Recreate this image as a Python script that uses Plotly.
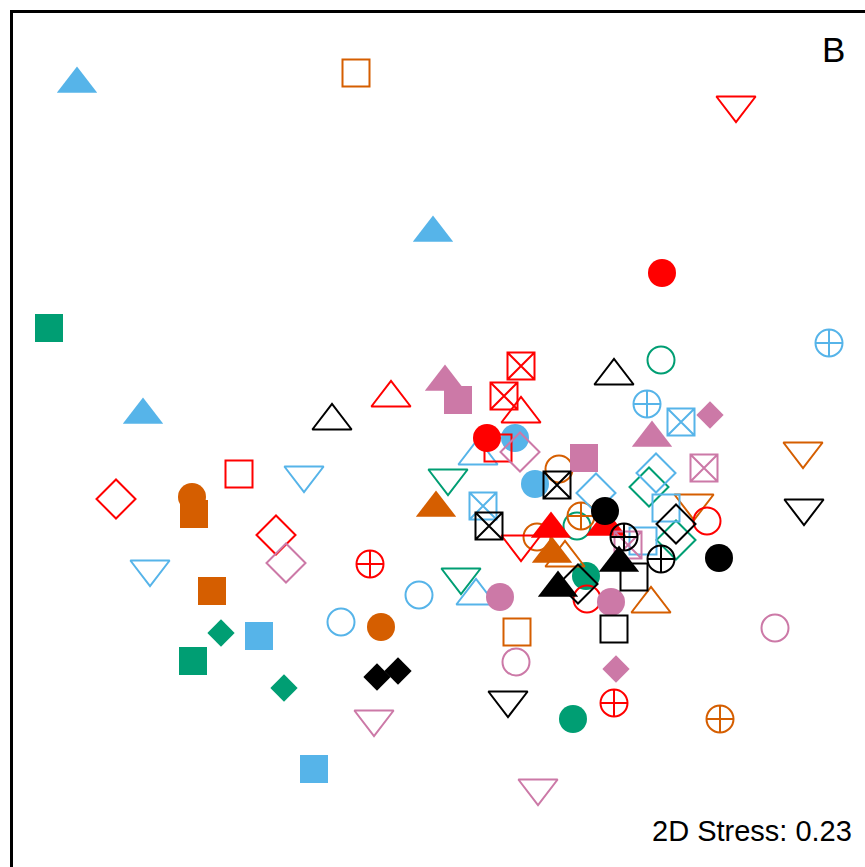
import plotly.graph_objects as go

# NMDS scores (arbitrary units), group (colour) and factor (symbol) per sample
nmds1 = [-3.63, -0.84, 2.96, -0.07, 2.22, -3.91, 3.89, 2.21, 1.74, 0.05,
         -0.49, 0.18, 0.81, 0.64, 0.81, -1.08, -2.97, 2.07, 2.41, 2.70,
         2.12, 0.47, 0.75, 0.38, 0.58, 0.80, 3.63, 1.44, 1.19, 0.08,
         0.95, 1.17, 2.64, 2.16, 2.09, 1.56, -2.01, -1.36, -3.24, -2.48,
         -2.46, -0.04, 0.43, 0.49, 0.81, 1.11, 0.97, 1.12, 1.25, 1.41,
         1.37, 1.65, 1.66, 2.26, 2.54, 2.36, 2.67, 2.36, 1.84, 1.88,
         2.03, 2.21, 1.79, 1.94, 2.79, -1.64, -1.54, -2.90, -0.70, 0.21,
         0.36, 0.60, 1.18, 1.38, 1.46, 1.47, 1.71, 2.11, 1.74, -0.21,
         -0.99, -0.59, -2.28, 0.77, 3.35, -1.81, -2.19, -2.47, 0.76, 1.76,
         -1.56, -0.63, -0.42, 0.68, 1.74, 2.80, 1.33, -0.66, -1.26, 0.98,
         3.64]
nmds2 = [3.56, 3.67, 3.35, 2.07, 1.67, 1.12, 0.97, 0.80, 0.64, 0.58,
         0.42, 0.40, 0.74, 0.44, 0.26, 0.19, 0.25, 0.36, 0.18, 0.25,
         0.02, 0.02, 0.02, -0.16, -0.08, -0.12, -0.11, -0.18, -0.29, -0.38,
         -0.44, -0.45, -0.28, -0.33, -0.47, -0.53, -0.34, -0.35, -0.59, -0.57,
         -0.74, -0.68, -0.66, -0.86, -1.04, -0.89, -0.97, -1.14, -1.18, -0.76,
         -0.86, -0.71, -0.87, -0.68, -0.63, -0.84, -0.81, -1.00, -0.97, -1.05,
         -1.01, -1.19, -1.23, -1.37, -1.18, -0.95, -1.23, -1.29, -1.24, -1.37,
         -1.56, -1.57, -1.48, -1.44, -1.36, -1.59, -1.62, -1.64, -1.89, -1.55,
         -1.82, -1.87, -1.51, -1.92, -1.88, -1.96, -1.93, -2.21, -2.22, -2.29,
         -2.48, -2.37, -2.31, -2.60, -2.63, -2.79, -2.79, -2.79, -3.29, -3.48,
         -0.68]
group = ["blue", "orange", "red", "blue", "red", "green", "blue", "green", "black", "pink",
         "red", "pink", "red", "red", "red", "black", "blue", "blue", "blue", "pink",
         "pink", "red", "blue", "blue", "red", "pink", "orange", "pink", "orange", "green",
         "blue", "black", "pink", "blue", "green", "blue", "red", "blue", "red", "orange",
         "orange", "orange", "blue", "black", "red", "red", "orange", "orange", "orange", "orange",
         "green", "black", "red", "blue", "orange", "black", "red", "green", "black", "pink",
         "blue", "black", "black", "black", "black", "red", "pink", "blue", "red", "green",
         "blue", "pink", "black", "black", "green", "red", "pink", "orange", "black", "blue",
         "blue", "orange", "orange", "orange", "pink", "blue", "green", "green", "pink", "pink",
         "green", "black", "black", "black", "red", "orange", "green", "pink", "blue", "pink",
         "black"]
factor = ["tr_f", "sq_o", "td_o", "tr_f", "ci_f", "sq_f", "cp", "ci_o", "tr_o", "tr_f",
          "tr_o", "sq_f", "sx", "sx", "tr_o", "tr_o", "tr_f", "cp", "sx", "di_f",
          "tr_f", "ci_f", "ci_f", "tr_o", "sq_o", "di_o", "td_o", "sq_f", "ci_o", "td_o",
          "ci_f", "sx", "sx", "di_o", "di_o", "di_o", "sq_o", "td_o", "di_o", "ci_f",
          "sq_f", "tr_f", "sx", "sx", "td_o", "tr_f", "ci_o", "tr_f", "tr_o", "cp",
          "ci_o", "ci_f", "tr_f", "sq_o", "td_o", "di_o", "ci_o", "di_o", "cp", "sx",
          "sq_o", "cp", "tr_f", "sq_o", "ci_f", "di_o", "di_o", "td_o", "cp", "td_o",
          "tr_o", "ci_f", "tr_f", "di_o", "ci_f", "ci_o", "ci_f", "tr_o", "sq_o", "ci_o",
          "ci_o", "ci_f", "sq_f", "sq_o", "ci_o", "sq_f", "di_f", "sq_f", "ci_o", "di_f",
          "di_f", "di_f", "di_f", "td_o", "cp", "cp", "ci_f", "td_o", "sq_f", "td_o",
          "td_o"]

stress_label = "2D Stress: 0.23"
panel_label = "B"

colors = {"green": "#009E73", "orange": "#D55E00", "blue": "#56B4E9",
          "red": "#FF0000", "pink": "#CC79A7", "black": "#000000"}
symbols = {"sq_o": "square-open", "ci_o": "circle-open", "tr_o": "triangle-up-open",
           "di_o": "diamond-open", "td_o": "triangle-down-open", "cp": "circle-cross-open",
           "sx": "square-x-open", "sq_f": "square", "ci_f": "circle",
           "tr_f": "triangle-up", "di_f": "diamond"}
sizes = {"sq_o": 27, "ci_o": 27, "tr_o": 34, "di_o": 30, "td_o": 34, "cp": 27,
         "sx": 27, "sq_f": 28, "ci_f": 28, "tr_f": 35, "di_f": 21}

fig = go.Figure()
for g in ["green", "orange", "blue", "red", "pink", "black"]:
    idx = [i for i, v in enumerate(group) if v == g]
    fig.add_trace(go.Scatter(
        x=[nmds1[i] for i in idx], y=[nmds2[i] for i in idx],
        mode="markers", name=g, showlegend=False,
        marker=dict(color=colors[g], opacity=1,
                    symbol=[symbols[factor[i]] for i in idx],
                    size=[sizes[factor[i]] for i in idx],
                    line=dict(color=colors[g],
                              width=[0 if factor[i].endswith("_f") else 2 for i in idx])),
    ))

fig.add_shape(type="rect", xref="x", yref="y", x0=-4.285, y0=-6, x1=6, y1=4.285,
              line=dict(color="black", width=3), fillcolor="rgba(0,0,0,0)")

fig.add_annotation(x=854 / 865, y=1 - 830.5 / 867, xref="paper", yref="paper",
                   text=stress_label, showarrow=False, xanchor="right", yanchor="middle",
                   font=dict(family="Liberation Sans, Arial", size=29, color="black"))
fig.add_annotation(x=847 / 865, y=1 - 50 / 867, xref="paper", yref="paper",
                   text=panel_label, showarrow=False, xanchor="right", yanchor="middle",
                   font=dict(family="Liberation Sans, Arial", size=35, color="black"))

ax = dict(showgrid=False, zeroline=False, showticklabels=False, ticks="",
          showline=False, fixedrange=True)
fig.update_layout(
    width=865, height=867, margin=dict(l=0, r=0, t=0, b=0),
    paper_bgcolor="white", plot_bgcolor="white",
    xaxis=dict(range=[-4.40, 4.25], **ax),
    yaxis=dict(range=[-4.27, 4.40], **ax),
)
fig.write_html("out.html", config={"displayModeBar": False},
               post_script="document.body.style.margin='0';")
